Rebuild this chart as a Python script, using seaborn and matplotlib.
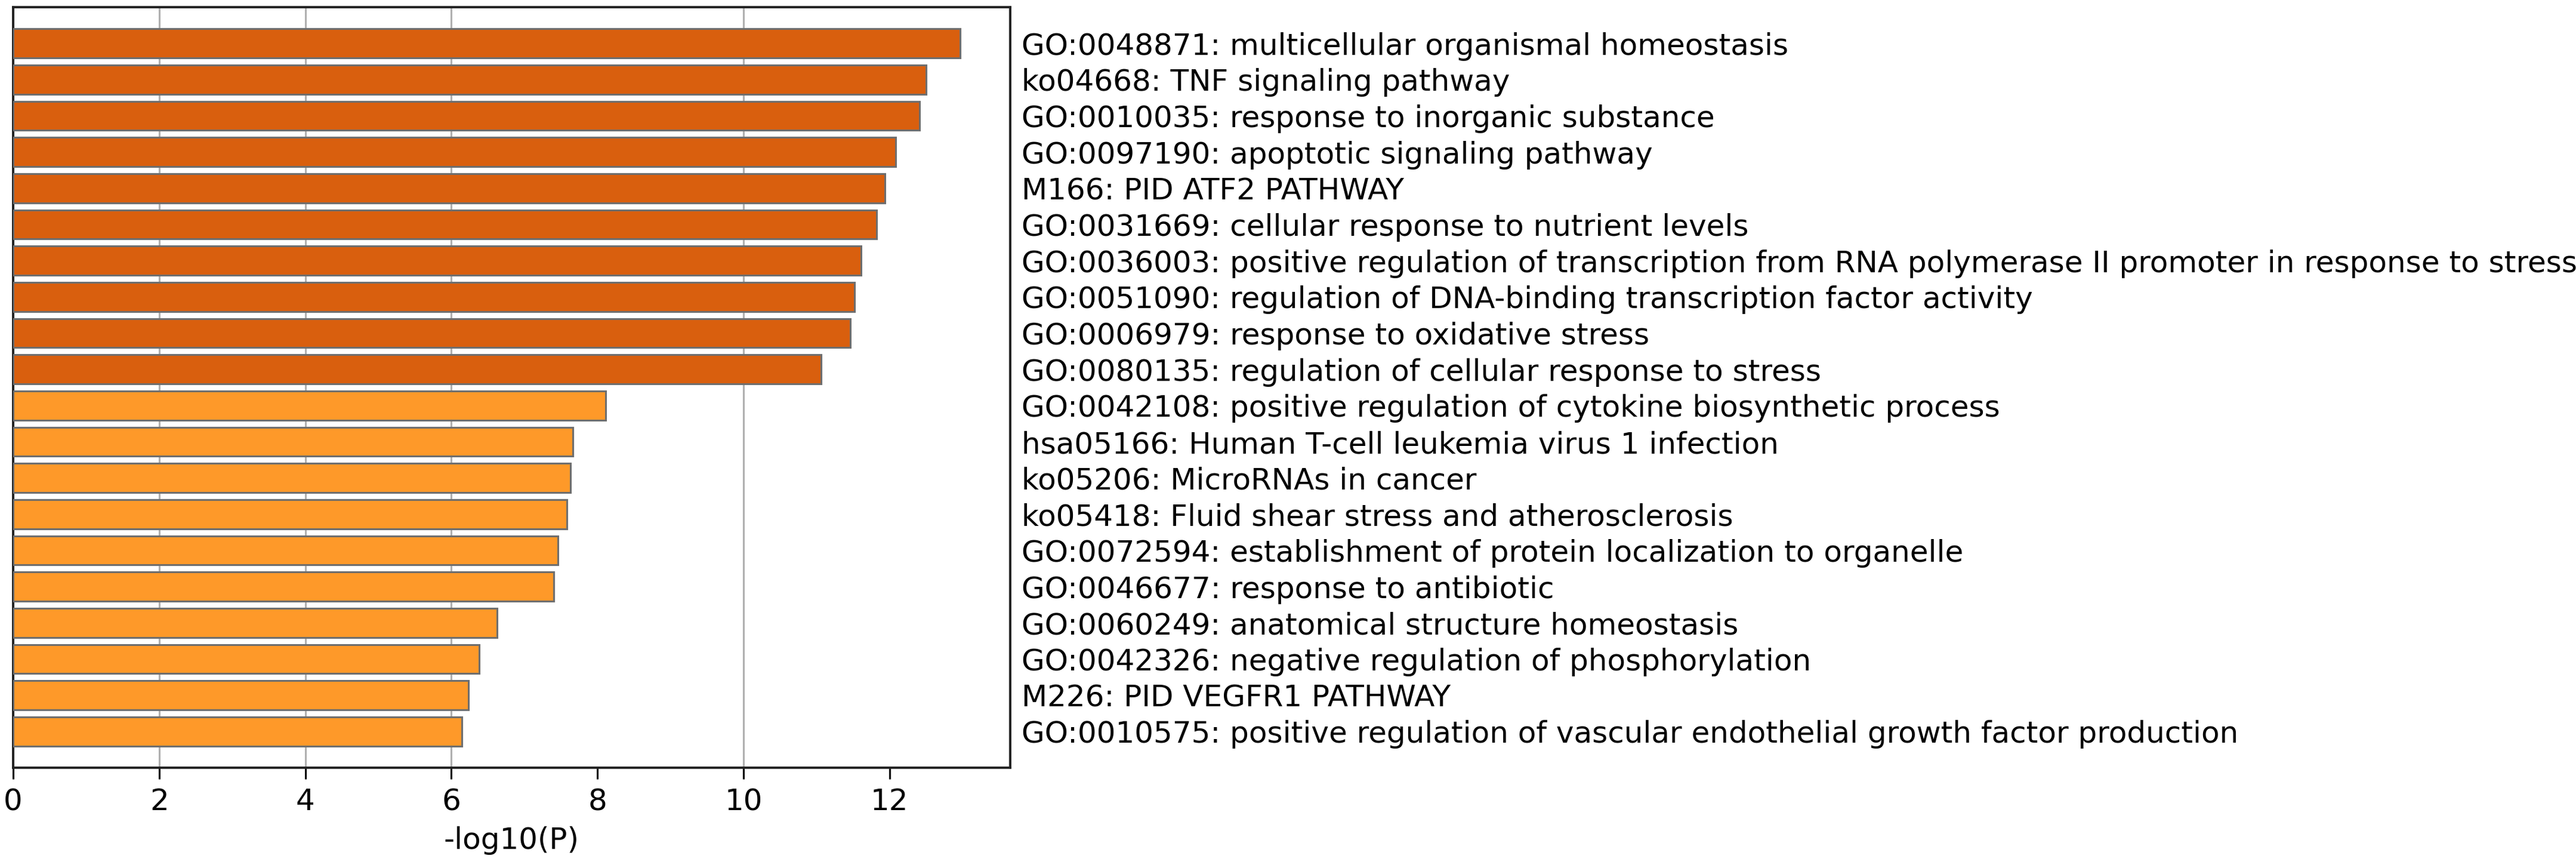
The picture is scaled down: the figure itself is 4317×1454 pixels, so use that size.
import pandas as pd
import seaborn as sns
import matplotlib.pyplot as plt

terms = [
    "GO:0048871: multicellular organismal homeostasis",
    "ko04668: TNF signaling pathway",
    "GO:0010035: response to inorganic substance",
    "GO:0097190: apoptotic signaling pathway",
    "M166: PID ATF2 PATHWAY",
    "GO:0031669: cellular response to nutrient levels",
    "GO:0036003: positive regulation of transcription from RNA polymerase II promoter in response to stress",
    "GO:0051090: regulation of DNA-binding transcription factor activity",
    "GO:0006979: response to oxidative stress",
    "GO:0080135: regulation of cellular response to stress",
    "GO:0042108: positive regulation of cytokine biosynthetic process",
    "hsa05166: Human T-cell leukemia virus 1 infection",
    "ko05206: MicroRNAs in cancer",
    "ko05418: Fluid shear stress and atherosclerosis",
    "GO:0072594: establishment of protein localization to organelle",
    "GO:0046677: response to antibiotic",
    "GO:0060249: anatomical structure homeostasis",
    "GO:0042326: negative regulation of phosphorylation",
    "M226: PID VEGFR1 PATHWAY",
    "GO:0010575: positive regulation of vascular endothelial growth factor production",
]
logp = [12.97, 12.50, 12.41, 12.08, 11.94, 11.82, 11.61, 11.52, 11.46, 11.06,
        8.11, 7.66, 7.63, 7.58, 7.46, 7.40, 6.63, 6.38, 6.23, 6.14]
group = ["top"] * 10 + ["rest"] * 10

df = pd.DataFrame({"term": terms, "logp": logp, "group": group})

sns.set_style("white")
plt.rcParams['font.family'] = ['DejaVu Sans']
plt.rcParams['text.color'] = 'black'
plt.rcParams['xtick.color'] = 'black'
plt.rcParams['ytick.color'] = 'black'
plt.rcParams['axes.labelcolor'] = 'black'

fig = plt.figure(figsize=(43.17, 14.54), dpi=100)
ax = fig.add_axes([0.0051, 0.1155, 0.3870, 0.8762])

sns.barplot(data=df, x="logp", y="term", hue="group", dodge=False,
            palette={"top": "#d95f0e", "rest": "#fe9929"},
            edgecolor="#6e6e6e", linewidth=2.2, width=0.8, legend=False,
            saturation=1, ax=ax, zorder=3)

ax.set_xlim(0, 13.65)
ax.set_ylim(20, -1)
ax.set_xticks(range(0, 13, 2))
ax.grid(axis="x", color="#b0b0b0", linewidth=2.2, zorder=0)
ax.set_axisbelow(True)
# 8 and 12 lines don't show in the original
for i, gl in enumerate(ax.get_xgridlines()):
    if i in (4, 6):
        gl.set_visible(False)

for s in ax.spines.values():
    s.set_linewidth(2.8)
    s.set_color("#222222")

ax.yaxis.tick_right()
ax.tick_params(axis="y", length=0, pad=14, labelsize=36)
ax.tick_params(axis="x", direction="out", length=14, width=2.2, labelsize=36,
               pad=10, bottom=True)
ax.set_xlabel("-log10(P)", fontsize=36, labelpad=12)
ax.set_ylabel("")

fig.savefig("out.png", dpi=100)
